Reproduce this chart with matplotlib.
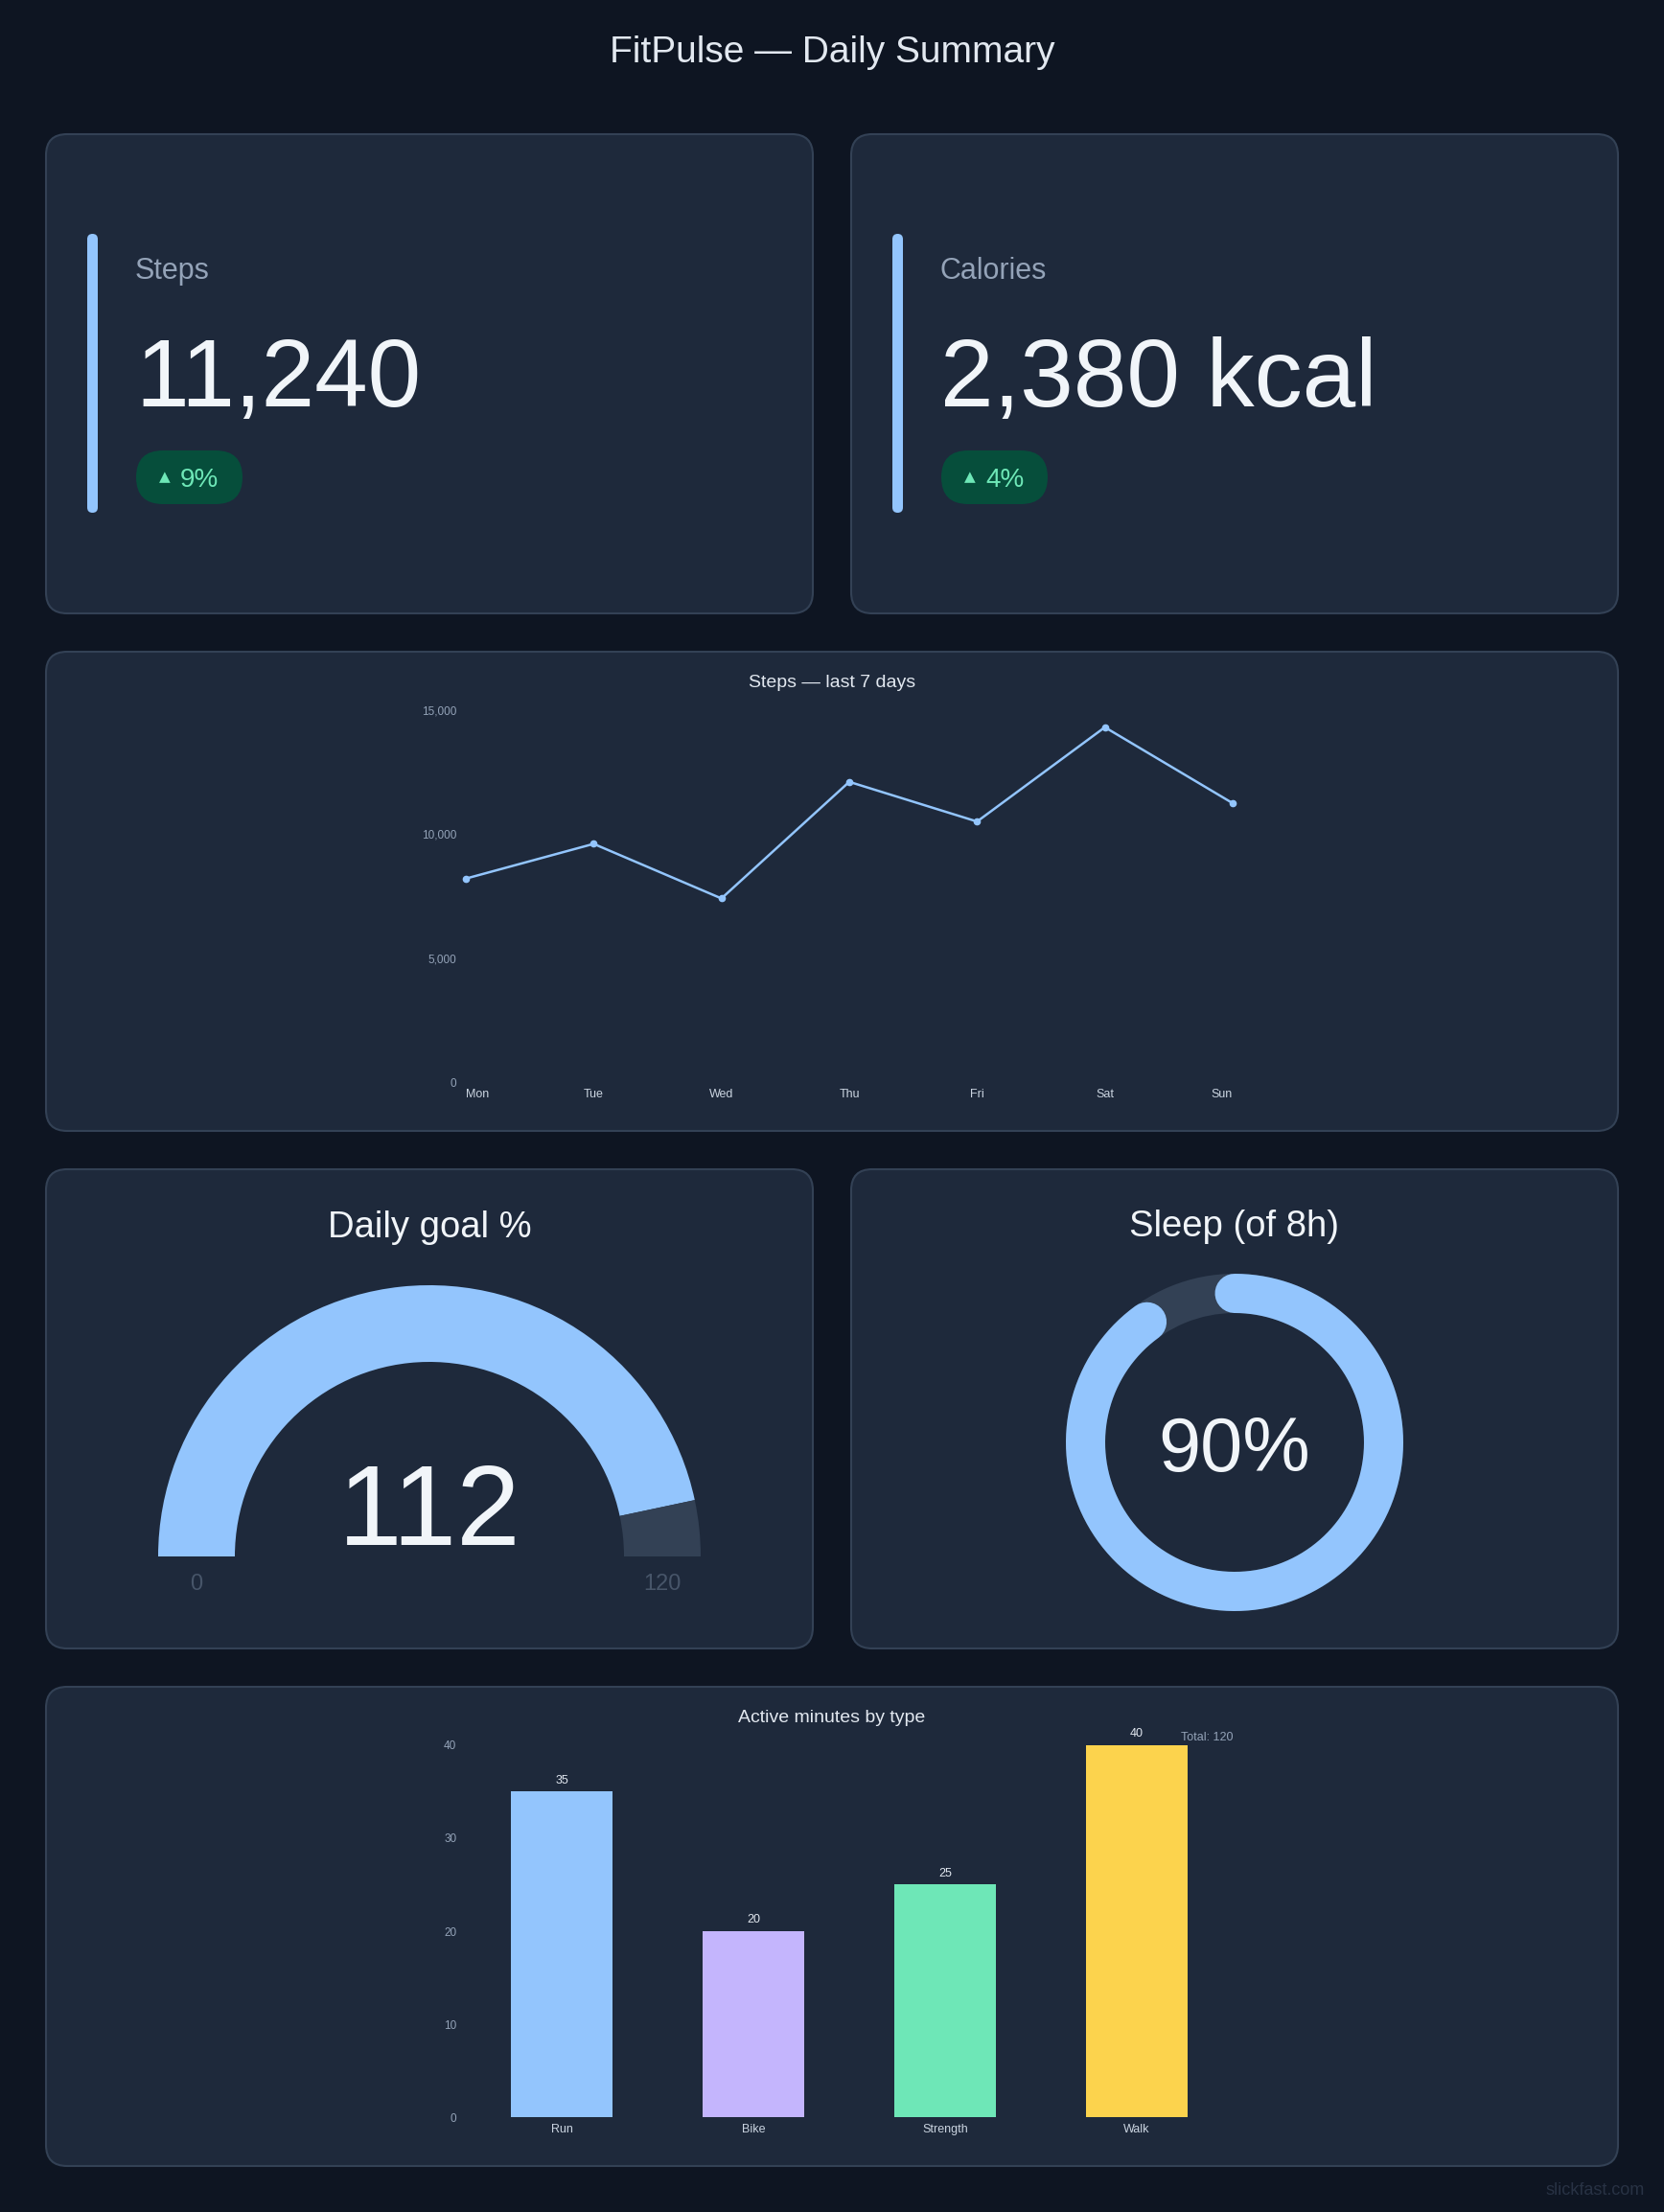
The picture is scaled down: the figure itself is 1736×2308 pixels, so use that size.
import numpy as np
import matplotlib
matplotlib.use('Agg')
import matplotlib.pyplot as plt
from matplotlib.patches import FancyBboxPatch, Wedge
from matplotlib.ticker import FuncFormatter

plt.rcParams['font.family'] = ['Liberation Sans', 'DejaVu Sans']

# data
days = ['Mon', 'Tue', 'Wed', 'Thu', 'Fri', 'Sat', 'Sun']
steps_week = [8200, 9600, 7400, 12100, 10500, 14300, 11240]

activities = ['Run', 'Bike', 'Strength', 'Walk']
minutes = [35, 20, 25, 40]
bar_colors = ['#93c5fd', '#c4b5fd', '#6ee7b7', '#fcd34d']

kpi_labels = ['Steps', 'Calories']
kpi_values = [11240, 2380]
kpi_units = ['', ' kcal']
kpi_changes = [9, 4]

goal_pct = 112
goal_max = 120

sleep_hours = 7.2
sleep_goal = 8

# colours
BG = '#0e1522'
CARD = '#1e293b'
BORDER = '#334155'
TEXT = '#f1f5f9'
SOFT = '#e2e8f0'
MUTED = '#94a3b8'
BLUE = '#93c5fd'

W, H = 1736, 2308
fig = plt.figure(figsize=(W / 100, H / 100), dpi=100, facecolor=BG)
bg = fig.add_axes([0, 0, 1, 1])
bg.set_xlim(0, W)
bg.set_ylim(0, H)
bg.axis('off')


def Y(y):
    # page pixels (top-down) -> bg axes units
    return H - y


def card(x0, y0, x1, y1):
    bg.add_patch(FancyBboxPatch((x0, Y(y1)), x1 - x0, y1 - y0,
                                boxstyle='round,pad=0,rounding_size=22',
                                fc=CARD, ec=BORDER, lw=1.5))


def px_axes(x0, y0, x1, y1):
    ax = fig.add_axes([x0 / W, Y(y1) / H, (x1 - x0) / W, (y1 - y0) / H])
    ax.set_facecolor('none')
    for s in ax.spines.values():
        s.set_visible(False)
    ax.tick_params(length=0)
    return ax


cols = [(48, 848), (888, 1688)]
rows = [(140, 640), (680, 1180), (1220, 1720), (1760, 2260)]

bg.text(W / 2, Y(65), 'FitPulse — Daily Summary', fontsize=28, color=SOFT,
        ha='center', va='baseline')

# KPI cards
for (x0, x1), label, val, unit, chg in zip(cols, kpi_labels, kpi_values, kpi_units, kpi_changes):
    card(x0, rows[0][0], x1, rows[0][1])
    bg.add_patch(FancyBboxPatch((x0 + 43, Y(535)), 11, 535 - 244,
                                boxstyle='round,pad=0,rounding_size=5.5', fc=BLUE, ec='none'))
    bg.text(x0 + 93, Y(291), label, fontsize=22, color=MUTED, va='baseline')
    bg.text(x0 + 93, Y(424), f'{val:,}{unit}', fontsize=72, color=TEXT, va='baseline')
    bg.add_patch(FancyBboxPatch((x0 + 94, Y(526)), 111, 56,
                                boxstyle='round,pad=0,rounding_size=28', fc='#064e3b', ec='none'))
    bg.text(x0 + 124, Y(502), '▲', fontsize=11, color='#6ee7b7', ha='center',
            va='baseline', family='DejaVu Sans')
    bg.text(x0 + 140, Y(508), f'{chg}%', fontsize=20, color='#6ee7b7', va='baseline')

# steps line chart
card(48, rows[1][0], 1688, rows[1][1])
bg.text(868, Y(717), 'Steps — last 7 days', fontsize=14, color=SOFT, ha='center', va='baseline')
ax = px_axes(486, 740.7, 1286, 1129)
ax.plot(range(len(days)), steps_week, color=BLUE, lw=1.8, marker='o', ms=4.5, clip_on=False)
ax.set_xlim(0, len(days) - 1)
ax.set_ylim(0, 15000)
ax.set_yticks([0, 5000, 10000, 15000])
ax.yaxis.set_major_formatter(FuncFormatter(lambda v, _: f'{v:,.0f}'))
ax.set_xticks(range(len(days)))
ax.set_xticklabels(days)
ax.tick_params(axis='x', labelcolor='#cbd5e1', labelsize=9, pad=5)
ax.tick_params(axis='y', labelcolor=MUTED, labelsize=8.5, pad=7)
xl = ax.get_xticklabels()
xl[0].set_ha('left')
xl[-1].set_ha('right')

# daily goal gauge
card(cols[0][0], rows[2][0], cols[0][1], rows[2][1])
bg.text(448, Y(1291), 'Daily goal %', fontsize=27.5, color=TEXT, ha='center', va='baseline')
split = 180 * (1 - goal_pct / goal_max)
bg.add_patch(Wedge((448, Y(1624)), 283, split, 180, width=80, fc=BLUE, ec='none'))
bg.add_patch(Wedge((448, Y(1624)), 283, 0, split, width=80, fc=BORDER, ec='none'))
bg.text(448, Y(1611.7), str(goal_pct), fontsize=86, color=TEXT, ha='center', va='baseline')
bg.text(205, Y(1659), '0', fontsize=17, color='#475569', ha='center', va='baseline')
bg.text(691, Y(1659), str(goal_max), fontsize=17, color='#475569', ha='center', va='baseline')

# sleep ring
card(cols[1][0], rows[2][0], cols[1][1], rows[2][1])
bg.text(1288, Y(1290), f'Sleep (of {sleep_goal}h)', fontsize=27.5, color=TEXT,
        ha='center', va='baseline')
frac = sleep_hours / sleep_goal
bg.add_patch(Wedge((1288, Y(1505)), 176, 0, 360, width=41, fc=BORDER, ec='none'))
th = np.radians(np.linspace(90, 90 - 360 * frac, 400))
bg.plot(1288 + 155.5 * np.cos(th), Y(1505) + 155.5 * np.sin(th), color=BLUE,
        lw=41 * 72 / 100, solid_capstyle='round')
bg.text(1288, Y(1535), f'{frac * 100:.0f}%', fontsize=57, color=TEXT, ha='center', va='baseline')

# active minutes bars
card(48, rows[3][0], 1688, rows[3][1])
bg.text(868, Y(1797), 'Active minutes by type', fontsize=14, color=SOFT, ha='center', va='baseline')
ax2 = px_axes(486, 1820.7, 1286, 2209.3)
ax2.bar(range(len(activities)), minutes, width=0.53, color=bar_colors)
ax2.set_xlim(-0.5, len(activities) - 0.5)
ax2.set_ylim(0, 40)
ax2.set_yticks([0, 10, 20, 30, 40])
ax2.set_xticks(range(len(activities)))
ax2.set_xticklabels(activities)
ax2.tick_params(axis='x', labelcolor='#cbd5e1', labelsize=9, pad=5)
ax2.tick_params(axis='y', labelcolor=MUTED, labelsize=8.5, pad=7)
for i, v in enumerate(minutes):
    ax2.annotate(str(v), (i, v), xytext=(0, 6.2), textcoords='offset points',
                 ha='center', va='baseline', fontsize=9, color=SOFT)
bg.text(1286, Y(1815.5), f'Total: {sum(minutes)}', fontsize=9, color=MUTED,
        ha='right', va='baseline')

bg.text(1716, Y(2290), 'slickfast.com', fontsize=13, color='#283244', ha='right', va='baseline')

fig.savefig('out.png', dpi=100, facecolor=BG)
